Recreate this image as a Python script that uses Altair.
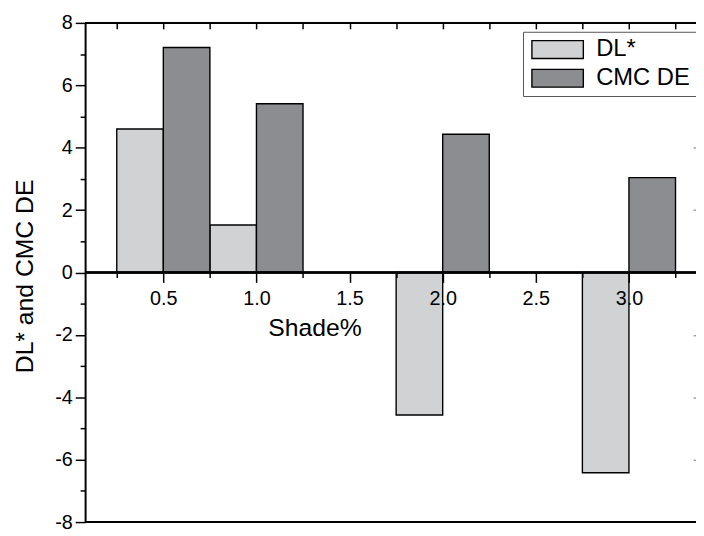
import altair as alt
import pandas as pd

# ---- data ----
shade = [0.5, 1.0, 2.0, 3.0]
dl_star = [4.6, 1.52, -4.57, -6.42]
cmc_de = [7.21, 5.41, 4.43, 3.04]
series = ["DL*", "CMC DE"]
colors = ["#d1d2d4", "#8c8d90"]

x_major = [0.5, 1.0, 1.5, 2.0, 2.5, 3.0]
x_minor = [0.25, 0.75, 1.25, 1.75, 2.25, 2.75, 3.25]
x_quarter = sorted(x_major + x_minor)
y_major = [-8, -6, -4, -2, 0, 2, 4, 6, 8]
y_minor = [-7, -5, -3, -1, 1, 3, 5, 7]
y_right = [-6, -4, -2, 2, 4, 6]
bar_w = 0.25

df = pd.DataFrame({
    "shade": shade + shade,
    "value": dl_star + cmc_de,
    "series": [series[0]] * len(shade) + [series[1]] * len(shade),
})

FONT = "Liberation Sans"
xs = alt.Scale(domain=[0.08, 3.36], nice=False, zero=False)
ys = alt.Scale(domain=[-8, 8], nice=False, zero=False)
ZERO_OFF = -252.5

base = alt.Chart(df).transform_calculate(
    x0=f"datum.series == '{series[0]}' ? datum.shade - {bar_w} : datum.shade",
).transform_calculate(
    x1=f"datum.x0 + {bar_w}"
)

shape_path = "M-1,-1H4.78V1H-1Z"

bars = base.mark_bar(stroke="black", strokeWidth=1.4).encode(
    x=alt.X("x0:Q", scale=xs, axis=alt.Axis(
        orient="bottom", offset=ZERO_OFF, values=x_major, format=".1f",
        domain=False, tickSize=10, tickColor="black", tickWidth=1.5,
        labelFontSize=20, labelPadding=6, labelFont=FONT, labelColor="black",
        title="Shade%", titleFont=FONT, titleFontSize=25, titleFontWeight="normal",
        titleColor="black", titleX=232, titleY=44, titleBaseline="top", titleAnchor="middle",
        grid=False, zindex=1)),
    x2="x1:Q",
    y=alt.Y("value:Q", scale=ys, axis=alt.Axis(
        orient="left", values=y_major, domain=True, domainColor="black", domainWidth=2,
        tickSize=10, tickColor="black", tickWidth=1.5,
        labelExpr="datum.value < 0 ? '-' + abs(datum.value) : '' + datum.value",
        labelFontSize=20, labelPadding=3, labelFont=FONT, labelColor="black",
        title="DL* and CMC DE", titleFont=FONT, titleFontSize=25, titleFontWeight="normal",
        titleColor="black", titleX=-53, titleY=256, titleBaseline="alphabetic",
        titleAngle=-90, titleAnchor="middle", grid=False)),
    y2=alt.datum(0),
    color=alt.Color("series:N", scale=alt.Scale(domain=series, range=colors),
                    legend=alt.Legend(
                        orient="none", legendX=443, legendY=9, title=None,
                        symbolType=shape_path, symbolSize=324,
                        symbolStrokeColor="black", symbolStrokeWidth=1.4,
                        symbolOpacity=1,
                        labelFont=FONT, labelFontSize=24, labelColor="black",
                        labelOffset=44, rowPadding=5, padding=6,
                        strokeColor="#555555", fillColor="white")),
)

minor_axes = base.mark_point(opacity=0).encode(
    x=alt.X("x0:Q", scale=xs, axis=alt.Axis(
        orient="bottom", offset=ZERO_OFF, values=x_minor, domain=False,
        tickSize=5, tickColor="black", tickWidth=1.5, labels=False,
        title=None, grid=False, zindex=1)),
    y=alt.Y("value:Q", scale=ys, axis=alt.Axis(
        orient="left", values=y_minor, domain=False,
        tickSize=5, tickColor="black", tickWidth=1.5, labels=False,
        title=None, grid=False)),
)

frame_axes = base.mark_point(opacity=0).encode(
    x=alt.X("x0:Q", scale=xs, axis=alt.Axis(
        orient="top", offset=-6, values=x_quarter, domain=False,
        tickSize=6, tickColor="black", tickWidth=1.5, labels=False,
        title=None, grid=False)),
    y=alt.Y("value:Q", scale=ys, axis=alt.Axis(
        orient="right", offset=-3, values=y_right, domain=False,
        tickSize=3, tickColor="#888888", tickWidth=1.2, labels=False,
        title=None, grid=False)),
)

zero_line = alt.Chart(df).mark_rule(color="black", strokeWidth=1.5).encode(
    y=alt.YDatum(0, scale=ys, axis=None))
top_line = alt.Chart(df).mark_rule(color="black", strokeWidth=2).encode(
    y=alt.YDatum(8, scale=ys, axis=None))
bottom_line = alt.Chart(df).mark_rule(color="black", strokeWidth=2).encode(
    y=alt.YDatum(-8, scale=ys, axis=None))

chart = alt.layer(
    bars, minor_axes, frame_axes, zero_line, top_line, bottom_line
).resolve_axis(
    x="independent", y="independent"
).properties(
    width=618, height=505,
    autosize=alt.AutoSizeParams(type="none"),
    padding={"left": 78, "top": 12, "right": 0, "bottom": 8},
).configure_view(stroke=None)

chart.save("out.html", embed_options={"renderer": "svg", "actions": False})
